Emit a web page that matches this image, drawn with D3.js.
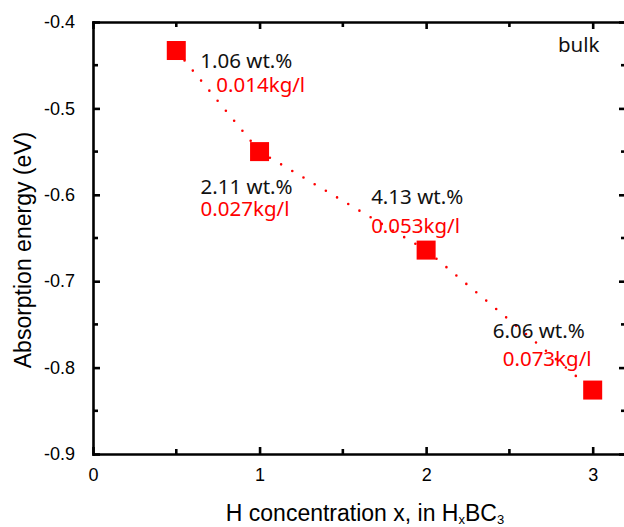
<!DOCTYPE html>
<html>
<head>
<meta charset="utf-8">
<script src="https://cdn.jsdelivr.net/npm/d3@7"></script>
<style>
	body { margin: 0; background: #fff; }
	.axis path, .axis line { stroke: #000; stroke-width: 2.6; }
	.axis text { font-family: 'Liberation Sans', Arial, sans-serif; font-size: 18px; fill: #000; }
	.note { font-family: 'Noto Sans', 'Open Sans', sans-serif; font-size: 20.5px; }
	.title { font-family: 'Liberation Sans', Arial, sans-serif; font-size: 23px; fill: #000; }
</style>
</head>
<body>
<div class="chart"></div>
<script>
// data
const hConc = [0.5, 1, 2, 3]
const energy = [-0.433, -0.550, -0.664, -0.826]
const wtLabels = ['1.06 wt.%', '2.11 wt.%', '4.13 wt.%', '6.06 wt.%']
const densLabels = ['0.014kg/l', '0.027kg/l', '0.053kg/l', '0.073kg/l']
const xTicks = [0, 1, 2, 3]
const xMinor = [0.5, 1.5, 2.5]
const yTicks = [-0.4, -0.5, -0.6, -0.7, -0.8, -0.9]
const yMinor = [-0.45, -0.55, -0.65, -0.75, -0.85]

// label offsets (px) from each marker: [wt dx, wt dy, dens dx, dens dy]
const labelOff = [
	[24, 17, 40, 41],
	[-59, 42, -59, 64],
	[-55, -46, -55, -17],
	[-100, -52, -90, -24],
]

const W = 624, H = 527
const margin = { top: 22, left: 93 }
const width = 533, height = 432

const data = hConc.map((x, i) => ({ x, y: energy[i], wt: wtLabels[i], dens: densLabels[i] }))

const svg = d3.select('.chart').append('svg')
	.attr('width', W)
	.attr('height', H)

const g = svg.append('g')
	.attr('transform', `translate(${margin.left},${margin.top})`)

const x = d3.scaleLinear().domain([0, 3.2]).range([0, width])
const y = d3.scaleLinear().domain([-0.4, -0.9]).range([0, height])

// plain hyphen minus, like the original figure
const fmt = d => d.toFixed(1)

const xb = g.append('g').attr('class', 'axis').attr('transform', `translate(0,${height})`)
xb.call(d3.axisBottom(x).tickValues(xTicks).tickSizeInner(-7).tickSizeOuter(0).tickPadding(14).tickFormat(d3.format('d')))
xb.selectAll('.minor').data(xMinor).enter().append('line').attr('class', 'minor')
	.attr('x1', d => x(d)).attr('x2', d => x(d)).attr('y1', 0).attr('y2', -5)

const xt = g.append('g').attr('class', 'axis')
xt.call(d3.axisTop(x).tickValues(xTicks).tickSizeInner(-7).tickSizeOuter(0).tickFormat(''))
xt.selectAll('.minor').data(xMinor).enter().append('line').attr('class', 'minor')
	.attr('x1', d => x(d)).attr('x2', d => x(d)).attr('y1', 0).attr('y2', 5)

const yl = g.append('g').attr('class', 'axis')
yl.call(d3.axisLeft(y).tickValues(yTicks).tickSizeInner(-7).tickSizeOuter(0).tickPadding(18).tickFormat(fmt))
yl.selectAll('.minor').data(yMinor).enter().append('line').attr('class', 'minor')
	.attr('y1', d => y(d)).attr('y2', d => y(d)).attr('x1', 0).attr('x2', 5)

const yr = g.append('g').attr('class', 'axis').attr('transform', `translate(${width},0)`)
yr.call(d3.axisRight(y).tickValues(yTicks).tickSizeInner(-7).tickSizeOuter(0).tickFormat(''))
yr.selectAll('.minor').data(yMinor).enter().append('line').attr('class', 'minor')
	.attr('y1', d => y(d)).attr('y2', d => y(d)).attr('x1', 0).attr('x2', -5)

g.selectAll('.axis path').attr('stroke-linecap', 'square')

// dotted connecting line
g.append('path')
	.datum(data)
	.attr('fill', 'none')
	.attr('stroke', '#ff0000')
	.attr('stroke-width', 2.6)
	.attr('stroke-linecap', 'round')
	.attr('stroke-dasharray', '0,13')
	.attr('d', d3.line().x(d => x(d.x)).y(d => y(d.y)))

// square markers
const sq = 19
g.selectAll('.pt')
	.data(data)
	.enter().append('rect')
	.attr('class', 'pt')
	.attr('x', d => x(d.x) - sq / 2)
	.attr('y', d => y(d.y) - sq / 2)
	.attr('width', sq)
	.attr('height', sq)
	.attr('fill', '#ff0000')

// annotations
g.selectAll('.wt')
	.data(data)
	.enter().append('text')
	.attr('class', 'note wt')
	.attr('x', (d, i) => x(d.x) + labelOff[i][0])
	.attr('y', (d, i) => y(d.y) + labelOff[i][1])
	.attr('fill', '#111')
	.text(d => d.wt)

g.selectAll('.dens')
	.data(data)
	.enter().append('text')
	.attr('class', 'note dens')
	.attr('x', (d, i) => x(d.x) + labelOff[i][2])
	.attr('y', (d, i) => y(d.y) + labelOff[i][3])
	.attr('fill', '#ff0000')
	.text(d => d.dens)

g.append('text')
	.attr('class', 'note')
	.attr('x', 465)
	.attr('y', 30)
	.attr('fill', '#111')
	.text('bulk')

// axis titles
svg.append('text')
	.attr('class', 'title')
	.attr('text-anchor', 'middle')
	.attr('transform', `translate(31,250) rotate(-90)`)
	.text('Absorption energy (eV)')

const xt2 = svg.append('text')
	.attr('class', 'title')
	.attr('text-anchor', 'middle')
	.attr('x', 365)
	.attr('y', 521)
xt2.append('tspan').text('H concentration x, in H')
xt2.append('tspan').attr('font-size', '13px').attr('dy', 3).text('x')
xt2.append('tspan').attr('dy', -3).text('BC')
xt2.append('tspan').attr('font-size', '13px').attr('dy', 3).text('3')
</script>
</body>
</html>
